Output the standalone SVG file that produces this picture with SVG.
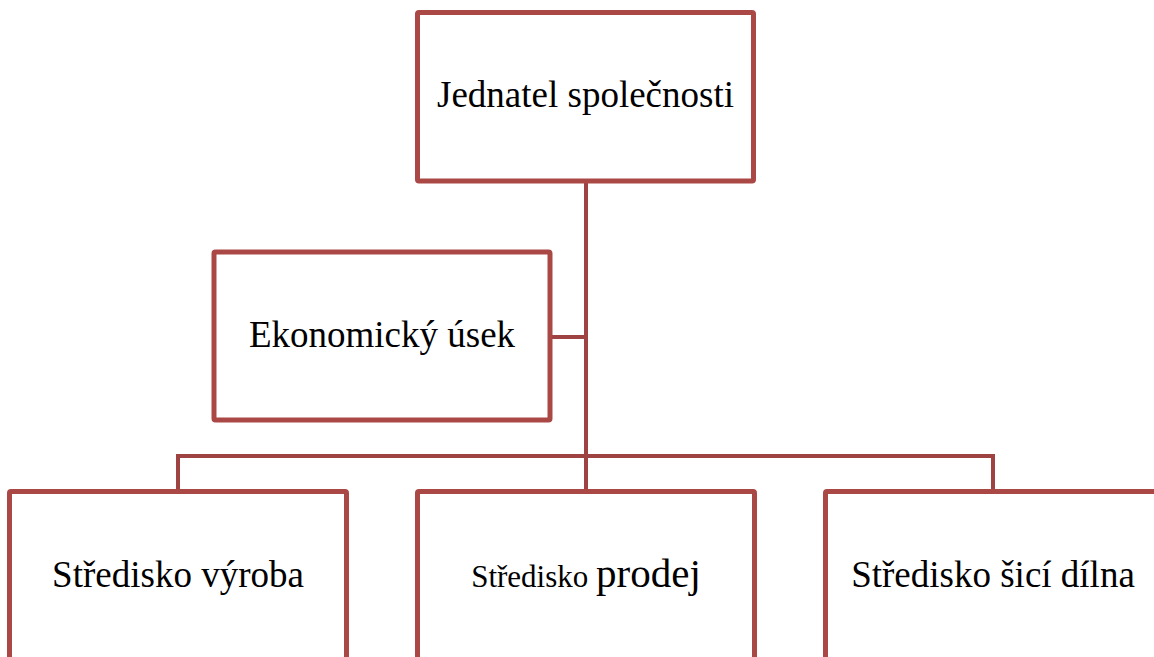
<svg xmlns="http://www.w3.org/2000/svg" width="1154" height="657" viewBox="0 0 1154 657">
<style>
.box{fill:#fff;stroke:#AA4846;stroke-width:5}
.lbl{font-family:"Liberation Serif","Times New Roman",serif;font-size:37px;fill:#000;text-anchor:middle}
.conn{fill:none;stroke:#9E4242;stroke-width:4}
</style>
<rect width="1154" height="657" fill="#fff"/>
<g id="connectors">
<line class="conn" x1="586" y1="181" x2="586" y2="491"/>
<line class="conn" x1="550" y1="337" x2="586" y2="337"/>
<polyline class="conn" points="178,491 178,456 993,456 993,491"/>
</g>
<g id="node-jednatel">
<rect class="box" x="417.5" y="12.5" width="336" height="168.5" rx="1.5"/>
<text class="lbl" x="585.5" y="107">Jednatel společnosti</text>
</g>
<g id="node-ekonomicky">
<rect class="box" x="214" y="252" width="336" height="168" rx="1.5"/>
<text class="lbl" x="382" y="347">Ekonomický úsek</text>
</g>
<g id="node-vyroba">
<rect class="box" x="9.5" y="491.5" width="337" height="200" rx="1.5"/>
<text class="lbl" x="178" y="587">Středisko výroba</text>
</g>
<g id="node-prodej">
<rect class="box" x="417.5" y="491.5" width="337" height="200" rx="1.5"/>
<text class="lbl" x="586" y="587"><tspan font-size="31">Středisko </tspan><tspan font-size="41">prodej</tspan></text>
</g>
<g id="node-sici">
<rect class="box" x="825.5" y="491.5" width="337" height="200" rx="1.5"/>
<text class="lbl" x="993" y="587">Středisko šicí dílna</text>
</g>
</svg>
